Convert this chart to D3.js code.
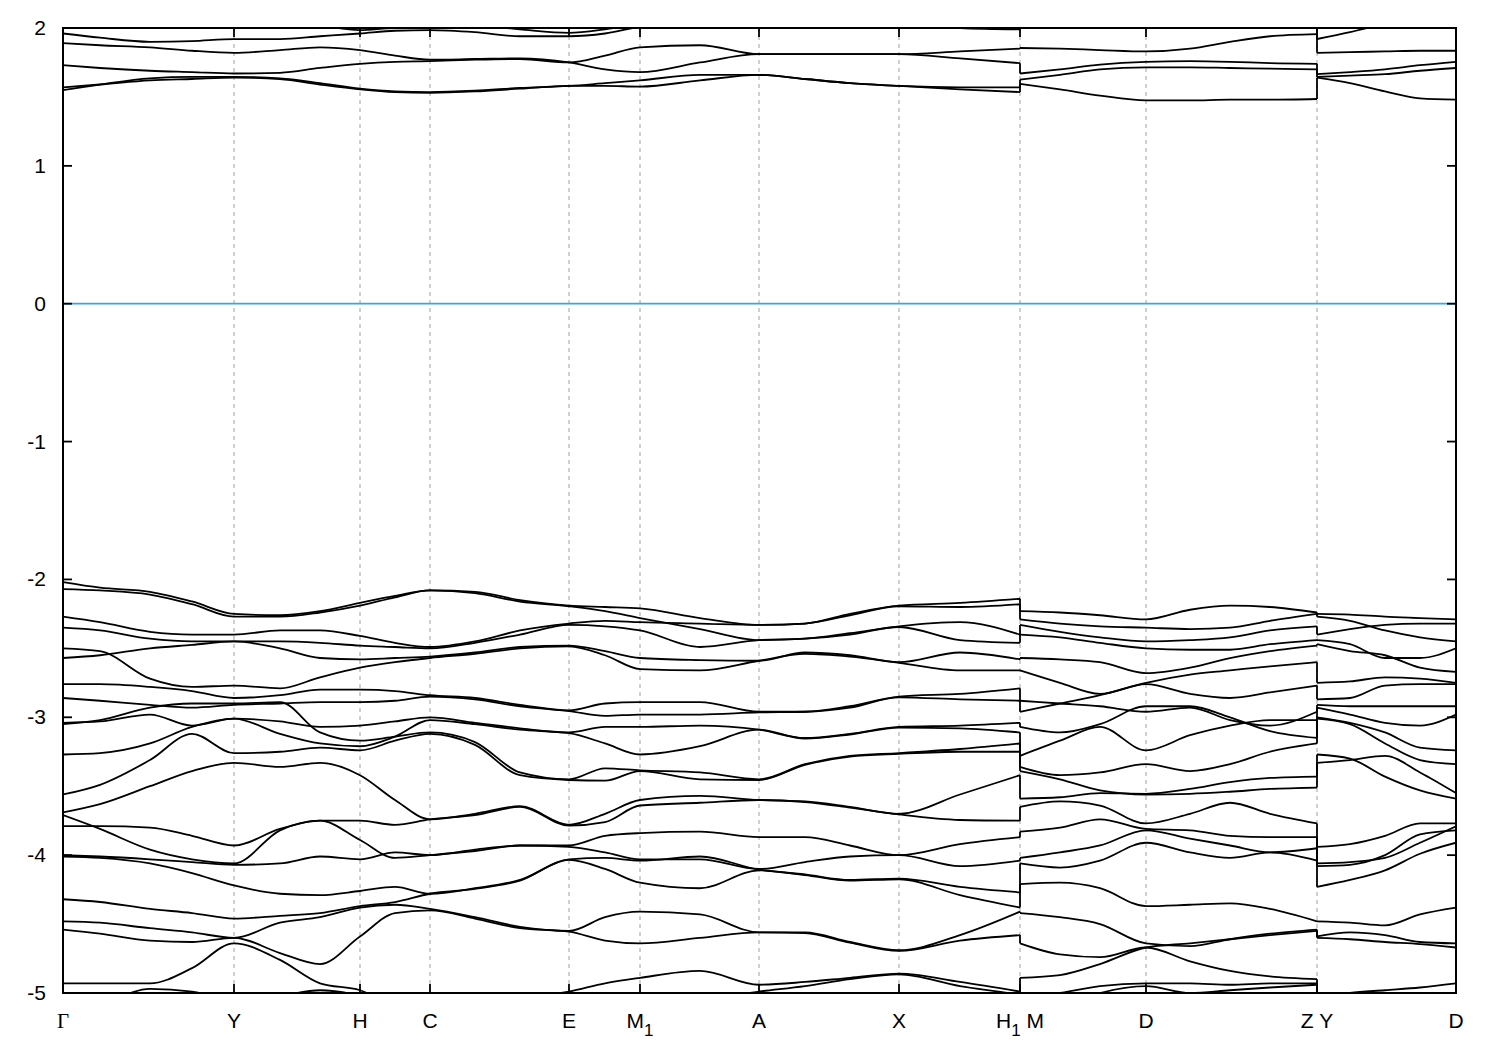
<!DOCTYPE html>
<html><head><meta charset="utf-8">
<script src="https://cdn.jsdelivr.net/npm/d3@7"></script>
<style>body{margin:0;background:#fff}svg{display:block}</style>
</head><body>
<svg id="chart" width="1500" height="1050"></svg>
<script>
// ---------- k-path (path length) and labels ----------
const kTicks = [0, 0.171, 0.297, 0.367, 0.506, 0.577, 0.696, 0.836, 0.957, 1.083, 1.254, 1.393];
const kLabels = ["Γ", "Y", "H", "C", "E", "M_1", "A", "X", "H_1 M", "D", "Z Y", "D"];
const energyTicks = [2, 1, 0, -1, -2, -3, -4, -5];
const energyRange = [-5, 2];

// ---------- segment 1 : Γ-Y-H-C-E-M1-A-X-H1 ----------
const seg1K = [0, 0.037, 0.087, 0.129, 0.171, 0.217, 0.257, 0.297, 0.332, 0.367, 0.412, 0.457,
               0.506, 0.542, 0.577, 0.637, 0.696, 0.742, 0.787, 0.836, 0.897, 0.957];
const seg1Conduction = [
  [1.96,1.93,1.90,1.905,1.92,1.92,1.94,1.96,1.98,1.985,1.97,1.94,1.94,1.96,2.01,2.05,2.08,2.08,2.05,2.03,2.0,1.99],
  [2.12,2.10,2.08,2.07,2.06,2.05,2.02,1.985,2.0,2.0,2.02,1.99,1.965,1.99,2.03,2.08,2.10,2.12,2.10,2.08,2.06,2.05],
  [1.89,1.875,1.86,1.835,1.82,1.84,1.86,1.84,1.80,1.77,1.775,1.78,1.75,1.70,1.68,1.75,1.81,1.81,1.81,1.81,1.78,1.745],
  [1.73,1.71,1.69,1.68,1.67,1.675,1.71,1.74,1.755,1.76,1.77,1.775,1.75,1.80,1.86,1.875,1.81,1.81,1.81,1.81,1.83,1.85],
  [1.57,1.59,1.62,1.63,1.64,1.63,1.59,1.555,1.535,1.53,1.54,1.56,1.58,1.58,1.575,1.62,1.66,1.63,1.60,1.58,1.57,1.57],
  [1.55,1.59,1.635,1.645,1.645,1.635,1.60,1.56,1.54,1.535,1.545,1.565,1.58,1.60,1.62,1.66,1.66,1.63,1.60,1.58,1.555,1.535]
];
const seg1Valence = [
  [-2.02,-2.06,-2.09,-2.16,-2.25,-2.26,-2.23,-2.17,-2.12,-2.08,-2.09,-2.15,-2.19,-2.20,-2.21,-2.28,-2.33,-2.32,-2.25,-2.19,-2.17,-2.14],
  [-2.07,-2.08,-2.11,-2.18,-2.27,-2.27,-2.24,-2.19,-2.13,-2.08,-2.10,-2.16,-2.195,-2.23,-2.28,-2.36,-2.44,-2.43,-2.39,-2.34,-2.31,-2.40],
  [-2.27,-2.31,-2.38,-2.40,-2.40,-2.37,-2.37,-2.41,-2.46,-2.49,-2.45,-2.37,-2.32,-2.30,-2.31,-2.32,-2.33,-2.32,-2.26,-2.195,-2.20,-2.18],
  [-2.35,-2.37,-2.43,-2.45,-2.45,-2.45,-2.46,-2.48,-2.49,-2.50,-2.46,-2.40,-2.33,-2.34,-2.37,-2.49,-2.44,-2.43,-2.40,-2.345,-2.44,-2.46],
  [-2.57,-2.55,-2.50,-2.475,-2.45,-2.50,-2.57,-2.58,-2.57,-2.56,-2.53,-2.49,-2.48,-2.52,-2.57,-2.585,-2.59,-2.53,-2.55,-2.60,-2.53,-2.58],
  [-2.50,-2.52,-2.72,-2.78,-2.77,-2.79,-2.71,-2.64,-2.60,-2.57,-2.54,-2.50,-2.485,-2.55,-2.65,-2.66,-2.59,-2.54,-2.56,-2.605,-2.66,-2.66],
  [-2.76,-2.76,-2.78,-2.81,-2.86,-2.84,-2.80,-2.80,-2.81,-2.84,-2.86,-2.91,-2.95,-2.90,-2.89,-2.89,-2.96,-2.96,-2.92,-2.85,-2.83,-2.79],
  [-2.86,-2.88,-2.91,-2.93,-2.91,-2.90,-2.89,-2.89,-2.88,-2.85,-2.87,-2.92,-2.955,-2.99,-2.98,-2.98,-2.965,-2.96,-2.93,-2.855,-2.87,-2.88],
  [-3.05,-3.02,-2.93,-2.90,-2.90,-2.89,-3.11,-3.17,-3.14,-3.11,-3.18,-3.40,-3.45,-3.37,-3.385,-3.40,-3.45,-3.34,-3.28,-3.26,-3.23,-3.19],
  [-3.04,-3.03,-2.98,-3.06,-3.01,-3.03,-3.07,-3.06,-3.03,-3.00,-3.04,-3.08,-3.11,-3.07,-3.07,-3.06,-3.09,-3.15,-3.12,-3.07,-3.06,-3.04],
  [-3.27,-3.26,-3.19,-3.07,-3.01,-3.12,-3.19,-3.21,-3.14,-3.02,-3.05,-3.09,-3.115,-3.19,-3.27,-3.21,-3.09,-3.155,-3.125,-3.075,-3.08,-3.11],
  [-3.56,-3.49,-3.31,-3.12,-3.26,-3.25,-3.22,-3.24,-3.17,-3.12,-3.20,-3.42,-3.455,-3.46,-3.39,-3.45,-3.455,-3.345,-3.285,-3.265,-3.25,-3.25],
  [-3.69,-3.63,-3.50,-3.39,-3.33,-3.36,-3.33,-3.42,-3.60,-3.74,-3.70,-3.645,-3.78,-3.70,-3.60,-3.57,-3.60,-3.61,-3.65,-3.70,-3.56,-3.42],
  [-3.79,-3.79,-3.80,-3.86,-3.93,-3.81,-3.75,-3.75,-3.78,-3.74,-3.71,-3.65,-3.785,-3.76,-3.64,-3.62,-3.60,-3.615,-3.655,-3.705,-3.745,-3.75],
  [-3.71,-3.81,-3.96,-4.03,-4.06,-3.82,-3.75,-3.89,-4.02,-4.00,-3.97,-3.93,-3.93,-3.86,-3.84,-3.83,-3.87,-3.87,-3.93,-4.00,-3.92,-3.87],
  [-4.00,-4.01,-4.03,-4.05,-4.07,-4.06,-4.01,-4.03,-3.98,-4.00,-3.96,-3.93,-3.94,-3.98,-4.03,-4.03,-4.10,-4.05,-4.01,-4.00,-4.08,-4.04],
  [-4.01,-4.02,-4.06,-4.13,-4.22,-4.28,-4.29,-4.26,-4.23,-4.28,-4.24,-4.18,-4.03,-4.02,-4.04,-4.01,-4.105,-4.14,-4.18,-4.17,-4.23,-4.27],
  [-4.32,-4.34,-4.39,-4.42,-4.46,-4.44,-4.42,-4.37,-4.34,-4.28,-4.245,-4.185,-4.035,-4.10,-4.20,-4.24,-4.11,-4.145,-4.185,-4.175,-4.29,-4.38],
  [-4.48,-4.49,-4.53,-4.56,-4.60,-4.49,-4.45,-4.38,-4.36,-4.39,-4.45,-4.52,-4.55,-4.45,-4.41,-4.43,-4.56,-4.56,-4.63,-4.69,-4.58,-4.41],
  [-4.54,-4.57,-4.62,-4.63,-4.60,-4.71,-4.79,-4.59,-4.42,-4.40,-4.46,-4.53,-4.555,-4.62,-4.64,-4.60,-4.56,-4.565,-4.635,-4.695,-4.62,-4.58],
  [-4.93,-4.93,-4.93,-4.82,-4.64,-4.76,-4.93,-4.98,-5.10,-5.20,-5.25,-5.20,-5.10,-5.15,-5.20,-5.25,-5.10,-5.05,-5.10,-5.10,-5.10,-5.10],
  [-5.20,-5.10,-4.97,-4.99,-5.05,-5.02,-4.98,-5.02,-5.10,-5.15,-5.10,-5.04,-4.99,-4.93,-4.89,-4.84,-4.94,-4.92,-4.89,-4.86,-4.92,-4.99],
  [-5.30,-5.30,-5.30,-5.30,-5.25,-5.20,-5.15,-5.10,-5.10,-5.10,-5.06,-5.03,-5.02,-5.05,-5.08,-5.05,-4.99,-4.95,-4.90,-4.865,-4.95,-5.01]
];

// ---------- segment 2 : M-D-Z ----------
const seg2K = [0.957, 0.997, 1.037, 1.083, 1.127, 1.167, 1.207, 1.254];
const seg2Conduction = [
  [1.855,1.85,1.84,1.83,1.85,1.90,1.94,1.955],
  [1.67,1.70,1.735,1.755,1.76,1.755,1.745,1.74],
  [1.625,1.66,1.70,1.715,1.715,1.71,1.705,1.70],
  [1.595,1.555,1.51,1.475,1.475,1.48,1.48,1.485],
  [2.10,2.10,2.10,2.10,2.10,2.10,2.10,2.10],
  [2.20,2.20,2.20,2.20,2.20,2.20,2.20,2.20]
];
const seg2Valence = [
  [-2.23,-2.24,-2.26,-2.29,-2.22,-2.19,-2.20,-2.24],
  [-2.29,-2.32,-2.34,-2.35,-2.36,-2.35,-2.30,-2.25],
  [-2.33,-2.38,-2.42,-2.45,-2.44,-2.42,-2.37,-2.34],
  [-2.40,-2.42,-2.46,-2.50,-2.51,-2.51,-2.47,-2.44],
  [-2.57,-2.58,-2.60,-2.68,-2.64,-2.57,-2.52,-2.48],
  [-2.66,-2.75,-2.83,-2.76,-2.83,-2.86,-2.82,-2.77],
  [-2.96,-2.90,-2.84,-2.75,-2.69,-2.66,-2.63,-2.60],
  [-2.88,-2.90,-2.92,-2.96,-2.93,-3.02,-3.06,-2.96],
  [-3.07,-3.11,-3.05,-2.92,-2.92,-3.00,-3.10,-3.15],
  [-3.28,-3.17,-3.07,-3.24,-3.13,-3.06,-3.02,-3.02],
  [-3.36,-3.42,-3.40,-3.34,-3.39,-3.34,-3.25,-3.19],
  [-3.39,-3.45,-3.53,-3.56,-3.555,-3.54,-3.52,-3.51],
  [-3.59,-3.58,-3.55,-3.555,-3.52,-3.47,-3.44,-3.43],
  [-3.65,-3.61,-3.64,-3.77,-3.70,-3.62,-3.70,-3.77],
  [-3.83,-3.80,-3.74,-3.81,-3.82,-3.86,-3.87,-3.87],
  [-4.02,-3.98,-3.93,-3.82,-3.88,-3.93,-3.98,-3.95],
  [-4.06,-4.09,-4.04,-3.91,-3.98,-4.02,-3.98,-4.04],
  [-4.21,-4.20,-4.24,-4.37,-4.36,-4.35,-4.39,-4.48],
  [-4.42,-4.45,-4.50,-4.64,-4.66,-4.61,-4.57,-4.54],
  [-4.64,-4.72,-4.74,-4.67,-4.77,-4.84,-4.88,-4.90],
  [-4.89,-4.87,-4.79,-4.67,-4.64,-4.61,-4.58,-4.55],
  [-5.05,-5.00,-4.95,-4.93,-4.93,-4.94,-4.93,-4.93],
  [-5.20,-5.10,-5.00,-4.95,-5.00,-4.98,-4.96,-4.94]
];

// ---------- segment 3 : Y-D ----------
const seg3K = [1.254, 1.287, 1.322, 1.357, 1.393];
const seg3Conduction = [
  [1.92,1.97,2.03,2.08,2.10],
  [1.82,1.825,1.83,1.835,1.835],
  [1.665,1.68,1.70,1.73,1.755],
  [1.645,1.655,1.665,1.69,1.71],
  [1.64,1.60,1.54,1.49,1.48],
  [2.20,2.20,2.20,2.20,2.20]
];
const seg3Valence = [
  [-2.25,-2.255,-2.27,-2.28,-2.29],
  [-2.27,-2.30,-2.37,-2.42,-2.45],
  [-2.40,-2.36,-2.33,-2.32,-2.32],
  [-2.44,-2.47,-2.57,-2.57,-2.50],
  [-2.47,-2.52,-2.55,-2.64,-2.67],
  [-2.75,-2.74,-2.71,-2.72,-2.75],
  [-2.87,-2.86,-2.77,-2.76,-2.76],
  [-2.91,-2.92,-2.92,-2.92,-2.92],
  [-2.93,-2.98,-3.04,-3.06,-2.98],
  [-3.00,-3.04,-3.11,-3.22,-3.24],
  [-3.01,-3.05,-3.19,-3.31,-3.34],
  [-3.27,-3.30,-3.43,-3.53,-3.59],
  [-3.33,-3.31,-3.28,-3.40,-3.55],
  [-3.94,-3.92,-3.86,-3.77,-3.77],
  [-4.06,-4.05,-4.02,-3.91,-3.79],
  [-4.08,-4.07,-4.00,-3.85,-3.82],
  [-4.23,-4.18,-4.11,-3.99,-3.91],
  [-4.48,-4.49,-4.51,-4.43,-4.38],
  [-4.59,-4.56,-4.58,-4.63,-4.64],
  [-4.60,-4.61,-4.63,-4.645,-4.67],
  [-5.05,-5.00,-4.98,-4.96,-4.93],
  [-5.20,-5.15,-5.10,-5.10,-5.10],
  [-5.35,-5.30,-5.30,-5.30,-5.30]
];

// ---------- drawing ----------
const plot = {left: 63, right: 1456, top: 28, bottom: 993};
const svg = d3.select("#chart");
const x = d3.scaleLinear().domain([kTicks[0], kTicks[kTicks.length - 1]]).range([plot.left, plot.right]);
const y = d3.scaleLinear().domain(energyRange).range([plot.bottom, plot.top]);
const bandWidth = 1.8;

svg.append("defs").append("clipPath").attr("id", "clip")
  .append("rect").attr("x", plot.left).attr("y", plot.top)
  .attr("width", plot.right - plot.left).attr("height", plot.bottom - plot.top);

// vertical dashed grid at high-symmetry points
svg.append("g").selectAll("line").data(kTicks.slice(1, -1)).join("line")
  .attr("x1", d => x(d)).attr("x2", d => x(d))
  .attr("y1", y(energyRange[1])).attr("y2", y(energyRange[0]))
  .attr("stroke", "#a0a0a0").attr("stroke-width", 1).attr("stroke-dasharray", "4,4");

// Fermi level
svg.append("line").attr("x1", x(kTicks[0])).attr("x2", x(kTicks[kTicks.length - 1]))
  .attr("y1", y(0)).attr("y2", y(0)).attr("stroke", "#3fa4dc").attr("stroke-width", 1.8);

const bandG = svg.append("g").attr("clip-path", "url(#clip)");
const line = d3.line().x(d => x(d[0])).y(d => y(d[1])).curve(d3.curveMonotoneX);

const segments = [
  {k: seg1K, bands: seg1Conduction.concat(seg1Valence)},
  {k: seg2K, bands: seg2Conduction.concat(seg2Valence)},
  {k: seg3K, bands: seg3Conduction.concat(seg3Valence)}
];
segments.forEach(seg => {
  seg.bands.forEach(b => {
    bandG.append("path").attr("d", line(b.map((e, i) => [seg.k[i], e])))
      .attr("fill", "none").attr("stroke", "#000").attr("stroke-width", bandWidth)
      .attr("stroke-linejoin", "round");
  });
});
// vertical jumps at path discontinuities (band n to band n)
for (let s = 0; s < segments.length - 1; s++) {
  const a = segments[s], b = segments[s + 1];
  const kj = a.k[a.k.length - 1];
  const ends = a.bands.map(v => v[v.length - 1]).sort(d3.descending);
  const starts = b.bands.map(v => v[0]).sort(d3.descending);
  const n = Math.min(ends.length, starts.length);
  for (let i = 0; i < n; i++) {
    bandG.append("line").attr("x1", x(kj)).attr("x2", x(kj))
      .attr("y1", y(ends[i])).attr("y2", y(starts[i]))
      .attr("stroke", "#000").attr("stroke-width", bandWidth);
  }
}

// frame
svg.append("rect").attr("x", plot.left).attr("y", plot.top)
  .attr("width", plot.right - plot.left).attr("height", plot.bottom - plot.top)
  .attr("fill", "none").attr("stroke", "#000").attr("stroke-width", 2);

// ticks (inward, all four sides)
const tl = 9;
const tg = svg.append("g").attr("stroke", "#000").attr("stroke-width", 1.8);
energyTicks.forEach(e => {
  tg.append("line").attr("x1", plot.left).attr("x2", plot.left + tl).attr("y1", y(e)).attr("y2", y(e));
  tg.append("line").attr("x1", plot.right).attr("x2", plot.right - tl).attr("y1", y(e)).attr("y2", y(e));
});
kTicks.slice(1, -1).forEach(k => {
  tg.append("line").attr("x1", x(k)).attr("x2", x(k)).attr("y1", plot.bottom).attr("y2", plot.bottom - tl);
  tg.append("line").attr("x1", x(k)).attr("x2", x(k)).attr("y1", plot.top).attr("y2", plot.top + tl);
});

// y tick labels
svg.append("g").selectAll("text").data(energyTicks).join("text")
  .attr("x", plot.left - 17).attr("y", d => y(d) + 7)
  .attr("text-anchor", "end").attr("font-family", "Liberation Sans, Arial, sans-serif")
  .attr("font-size", 21).text(d => String(d));

// x tick labels (gnuplot-style "_" subscripts)
kLabels.forEach((lab, i) => {
  const t = svg.append("text").attr("x", x(kTicks[i])).attr("y", 1028)
    .attr("text-anchor", "middle").attr("font-size", 21)
    .attr("font-family", lab === "Γ" ? "Liberation Serif, Times New Roman, serif" : "Liberation Sans, Arial, sans-serif");
  const parts = [];
  let buf = "";
  for (let c = 0; c < lab.length; c++) {
    if (lab[c] === "_") {
      if (buf) { parts.push({text: buf, sub: false}); buf = ""; }
      parts.push({text: lab[c + 1], sub: true});
      c++;
    } else buf += lab[c];
  }
  if (buf) parts.push({text: buf, sub: false});
  let shifted = false;
  parts.forEach(p => {
    const ts = t.append("tspan").text(p.text);
    if (p.sub) { ts.attr("dy", 8).attr("font-size", 17); shifted = true; }
    else if (shifted) { ts.attr("dy", -8); shifted = false; }
  });
});
</script>
</body></html>
